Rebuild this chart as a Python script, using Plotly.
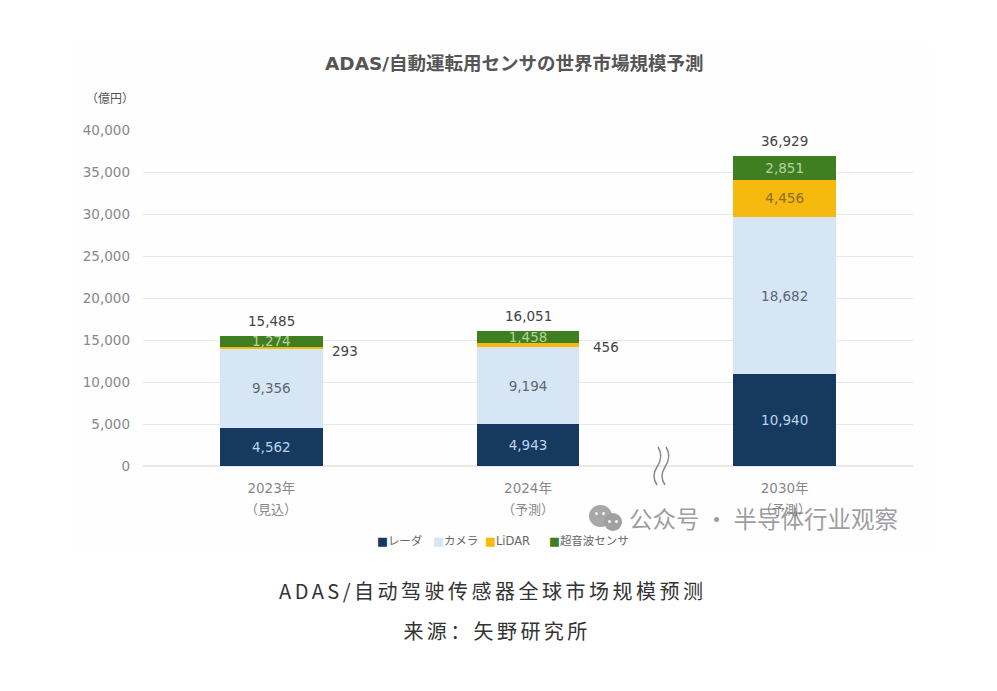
import plotly.graph_objects as go

W, H = 997, 691
FONT = "DejaVu Sans, Noto Sans CJK JP"
SC = "Noto Sans CJK SC"

years = ["2023年", "2024年", "2030年"]
notes = ["（見込）", "（予測）", "（予測）"]
radar = [4562, 4943, 10940]
camera = [9356, 9194, 18682]
lidar = [293, 456, 4456]
sonar = [1274, 1458, 2851]
totals = [15485, 16051, 36929]
yticks = [0, 5000, 10000, 15000, 20000, 25000, 30000, 35000, 40000]

chart_title = "ADAS/自動運転用センサの世界市場規模予測"
unit = "（億円）"
caption = "ADAS/自动驾驶传感器全球市场规模预测"
source = "来源：矢野研究所"
watermark = "公众号 · 半导体行业观察"


def px(x):
    return x / W


def py(y):
    return 1 - y / H


fig = go.Figure()
series = [
    ("レーダ", radar, "#15395f", "#bcd3ea", [f"{v:,}" for v in radar]),
    ("カメラ", camera, "#d7e6f5", "#5d6770", [f"{v:,}" for v in camera]),
    ("LiDAR", lidar, "#f6b90e", "#8a6c24", ["", "", f"{lidar[2]:,}"]),
    ("超音波センサ", sonar, "#3f7f22", "#b5d29c", [f"{v:,}" for v in sonar]),
]
for name, vals, color, tcolor, labels in series:
    fig.add_trace(go.Bar(
        name=name, x=years, y=vals, marker=dict(color=color, line=dict(width=0)),
        text=labels, textposition="inside", insidetextanchor="middle",
        textangle=0, constraintext="none", showlegend=False,
        textfont=dict(family=FONT, size=13.5, color=tcolor), hoverinfo="skip",
    ))

ann = []
for yr, total in zip(years, totals):
    ann.append(dict(x=yr, y=total, xref="x", yref="y", text=f"{total:,}", showarrow=False,
                    yanchor="bottom", yshift=5, font=dict(family=FONT, size=13.5, color="#444")))
for i, shift in zip(range(2), (74, 78)):
    ann.append(dict(x=years[i], y=radar[i] + camera[i] + lidar[i], xref="x", yref="y",
                    text=f"{lidar[i]:,}", showarrow=False, xshift=shift, yshift=-4,
                    font=dict(family=FONT, size=13.5, color="#444")))
for yr, note in zip(years, notes):
    ann.append(dict(x=yr, y=py(509), xref="x", yref="paper", text=note, showarrow=False,
                    yanchor="middle", font=dict(family=FONT, size=13, color="#888")))

ann += [
    dict(x=px(514), y=py(64), text=f"<b>{chart_title}</b>",
         font=dict(family=FONT, size=18.5, color="#555")),
    dict(x=px(110), y=py(99), text=unit, font=dict(family=FONT, size=12, color="#555")),
    dict(x=px(493), y=py(590), text=caption, font=dict(family=SC, size=20, color="#333")),
    dict(x=px(497), y=py(630), text=source, font=dict(family=SC, size=20, color="#333")),
    dict(x=px(763), y=py(518), text=watermark, font=dict(family=SC, size=23.5, color="rgba(125,125,125,0.75)")),
]
for a in ann[-5:]:
    a.update(xref="paper", yref="paper", showarrow=False, xanchor="center", yanchor="middle")

# compact legend row, in the same colours as the series
legend_left = (375, 431, 483, 547)
for (name, vals, color, tcolor, labels), left in zip(series, legend_left):
    ann.append(dict(x=px(left), y=py(541), xref="paper", yref="paper", showarrow=False,
                    xanchor="left", yanchor="middle",
                    text=f'<span style="color:{color}">■</span>{name}',
                    font=dict(family=FONT, size=11.5, color="#666")))


def ell(x0, y0, x1, y1, color, layer="above"):
    return dict(type="circle", xref="paper", yref="paper", x0=px(x0), x1=px(x1), y0=py(y0), y1=py(y1),
                fillcolor=color, line=dict(width=0), layer=layer)


def path(d, color):
    return dict(type="path", xref="paper", yref="paper", path=d, line=dict(color=color, width=1.5))


def sq(x):
    pts = [(x + 4, 447), (x + 8, 456), (x + 3, 467), (x - 1, 476), (x + 3, 485)]
    s = f"M{px(pts[0][0])},{py(pts[0][1])}"
    s += f" Q{px(pts[1][0]+2)},{py(pts[1][1])} {px(pts[2][0])},{py(pts[2][1])}"
    s += f" Q{px(pts[3][0]-2)},{py(pts[3][1])} {px(pts[4][0])},{py(pts[4][1])}"
    return path(s, "#888")


shapes = [
    dict(type="rect", xref="paper", yref="paper", x0=px(72), x1=px(930), y0=py(45), y1=py(553),
         fillcolor="#fefefe", line=dict(width=0), layer="below"),
    sq(654), sq(662),
    ell(589, 505, 612, 527, "#a8a8a8"),
    ell(604, 513, 622, 531, "#a0a0a0"),
    ell(595, 512, 598, 515, "#fdfdfd"),
    ell(602, 512, 605, 515, "#fdfdfd"),
    ell(608, 520, 611, 523, "#fdfdfd"),
    ell(615, 520, 618, 523, "#fdfdfd"),
]

fig.update_layout(
    width=W, height=H, autosize=False,
    margin=dict(l=0, r=0, t=0, b=0, autoexpand=False),
    paper_bgcolor="white", plot_bgcolor="rgba(0,0,0,0)",
    barmode="stack", bargap=0.6,
    font=dict(family=FONT), showlegend=False,
    annotations=ann, shapes=shapes,
    xaxis=dict(domain=[px(143), px(913)], type="category", categoryorder="array", categoryarray=years,
               showgrid=False, showline=False, ticks="", ticklen=0,
               tickfont=dict(family=FONT, size=13.5, color="#888"), ticklabelstandoff=12),
    yaxis=dict(domain=[py(466), py(130)], range=[0, 40000], tickvals=yticks,
               ticktext=[f"{v:,}" for v in yticks], showgrid=True, gridcolor="#e8e8e8", gridwidth=1,
               zeroline=True, zerolinecolor="#e8e8e8", showline=False, ticks="",
               tickfont=dict(family=FONT, size=13.5, color="#888"), ticklabelstandoff=12),
)

post = """
document.body.style.margin='0';
var ts=document.querySelectorAll('.annotation-text');
ts.forEach(function(t){
  var s=t.textContent;
  if(s.indexOf('自动驾驶')>=0){t.style.letterSpacing='3.5px';}
  if(s.indexOf('来源')>=0){t.style.letterSpacing='3.4px';}
});
"""
fig.write_html("out.html", post_script=post, config=dict(displayModeBar=False))
